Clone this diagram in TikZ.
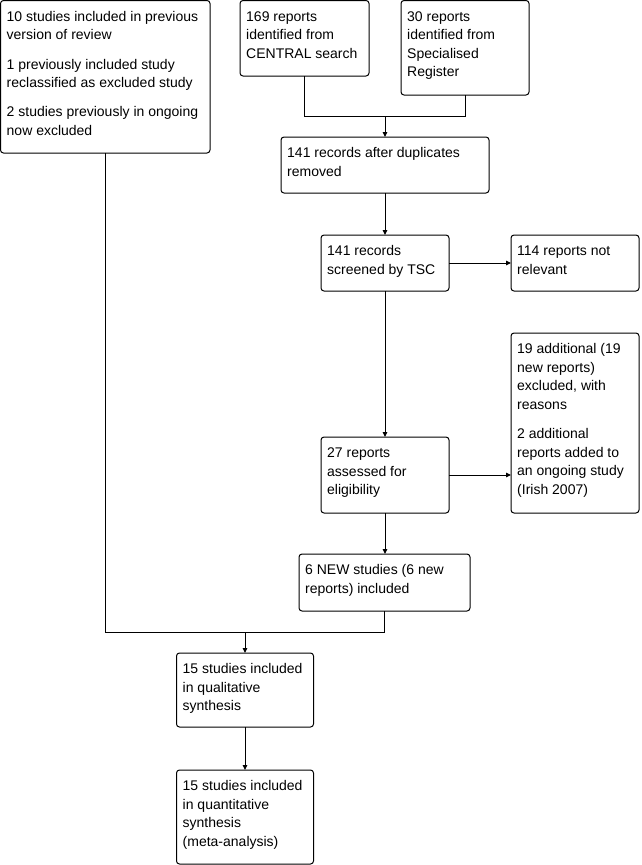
\documentclass[tikz,border=0pt]{standalone}
\usepackage{fontspec}
\setmainfont{Liberation Sans}
\usetikzlibrary{arrows.meta}
\newcommand{\fl}{\rule{0pt}{14pt}}
\begin{document}
\begin{tikzpicture}[x=1pt,y=-1pt,
  bx/.style={draw=black,line width=1pt,rounded corners=3pt,inner sep=0pt,outer sep=0pt,anchor=north west,fill=white},
  tx/.style={anchor=north west,inner sep=0pt,align=left,font=\fontsize{14pt}{18.5pt}\selectfont},
  ln/.style={draw=black,line width=1pt},
  arr/.style={ln,-{Triangle[length=5pt,width=4.5pt]}}]
\useasboundingbox[fill=white] (0,0) rectangle (642,865);
% boxes
\node[bx,minimum width=209.5pt,minimum height=152.5pt] (A) at (0.5,0.5) {};
\node[bx,minimum width=129pt,minimum height=75.5pt] (B) at (240,0.5) {};
\node[bx,minimum width=128pt,minimum height=94.5pt] (C) at (401,0.5) {};
\node[bx,minimum width=208pt,minimum height=56pt] (D) at (281,137) {};
\node[bx,minimum width=128pt,minimum height=56pt] (E) at (321,235) {};
\node[bx,minimum width=128pt,minimum height=56pt] (F) at (511,235) {};
\node[bx,minimum width=128pt,minimum height=180pt] (G) at (511,333) {};
\node[bx,minimum width=128pt,minimum height=76pt] (H) at (321,437) {};
\node[bx,minimum width=171pt,minimum height=57pt] (I) at (299,554) {};
\node[bx,minimum width=137pt,minimum height=74pt] (J) at (176.5,653) {};
\node[bx,minimum width=137pt,minimum height=94pt] (K) at (176.5,770) {};
% texts
\node[tx] (At) at ([xshift=6pt,yshift=-6.5pt]A.north west) {\fl 10 studies included in previous\\version of review\\[10.8pt]1 previously included study\\reclassified as excluded study\\[10.8pt]2 studies previously in ongoing\\now excluded};
\node[tx] (Bt) at ([xshift=6pt,yshift=-6.5pt]B.north west) {\fl 169 reports\\identified from\\CENTRAL search};
\node[tx] (Ct) at ([xshift=6pt,yshift=-6.5pt]C.north west) {\fl 30 reports\\identified from\\Specialised\\Register};
\node[tx] (Dt) at ([xshift=6pt,yshift=-6.5pt]D.north west) {\fl 141 records after duplicates\\removed};
\node[tx] (Et) at ([xshift=6pt,yshift=-6.5pt]E.north west) {\fl 141 records\\screened by TSC};
\node[tx] (Ft) at ([xshift=6pt,yshift=-6.5pt]F.north west) {\fl 114 reports not\\relevant};
\node[tx] (Gt) at ([xshift=6pt,yshift=-6.5pt]G.north west) {\fl 19 additional (19\\new reports)\\excluded, with\\reasons\\[10.8pt]2 additional\\reports added to\\an ongoing study\\(Irish 2007)};
\node[tx] (Ht) at ([xshift=6pt,yshift=-6.5pt]H.north west) {\fl 27 reports\\assessed for\\eligibility};
\node[tx] (It) at ([xshift=6pt,yshift=-6.5pt]I.north west) {\fl 6 NEW studies (6 new\\reports) included};
\node[tx] (Jt) at ([xshift=6pt,yshift=-6.5pt]J.north west) {\fl 15 studies included\\in qualitative\\synthesis};
\node[tx] (Kt) at ([xshift=6pt,yshift=-6.5pt]K.north west) {\fl 15 studies included\\in quantitative\\synthesis\\(meta-analysis)};
% connectors
\coordinate (j1) at (385,116);
\coordinate (j2) at (245,632);
\draw[ln] (B.south) |- (j1);
\draw[ln] (C.south) |- (j1);
\draw[arr] (j1) -- (D.north);
\draw[arr] (D.south) -- (E.north);
\draw[arr] (E.east) -- (F.west);
\draw[arr] (E.south) -- (H.north);
\draw[arr] (H.east) -- (G.west |- H.east);
\draw[arr] (H.south) -- (H.south |- I.north);
\draw[ln] (A.south) |- (j2);
\draw[ln] (I.south) |- (j2);
\draw[arr] (j2) -- (J.north);
\draw[arr] (J.south) -- (K.north);
\end{tikzpicture}
\end{document}
